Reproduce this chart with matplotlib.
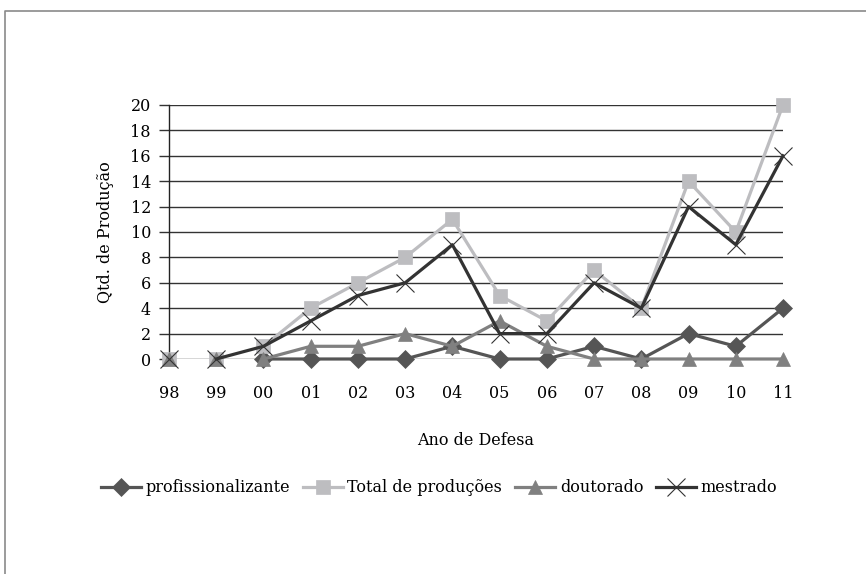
import numpy as np
import matplotlib
matplotlib.use('Agg')
import matplotlib.pyplot as plt
from matplotlib.lines import Line2D

anos = ['98', '99', '00', '01', '02', '03', '04', '05', '06', '07', '08', '09', '10', '11']

profissionalizante = [np.nan, np.nan, 0, 0, 0, 0, 1, 0, 0, 1, 0, 2, 1, 4]
total = [0, 0, 1, 4, 6, 8, 11, 5, 3, 7, 4, 14, 10, 20]
doutorado = [0, 0, 0, 1, 1, 2, 1, 3, 1, 0, 0, 0, 0, 0]
mestrado = [0, 0, 1, 3, 5, 6, 9, 2, 2, 6, 4, 12, 9, 16]

# index from which each line is drawn (earlier points are markers only)
inicio_linha = {'profissionalizante': 2, 'Total de produções': 2, 'doutorado': 2, 'mestrado': 1}

plt.rcParams['font.family'] = ['DejaVu Serif']
fs = 11.5

fig = plt.figure(figsize=(8.66, 5.74), dpi=100)
ax = fig.add_axes([169/866, 1-359/574, (783-169)/866, (359-105)/574])

x = np.arange(len(anos))
series = [
    ('profissionalizante', profissionalizante, '#555555', 'D', 9, '#555555'),
    ('Total de produções', total, '#bdbdc0', 's', 10, '#bdbdc0'),
    ('doutorado', doutorado, '#808080', '^', 10, '#808080'),
    ('mestrado', mestrado, '#333333', 'x', 13, '#333333'),
]

handles = []
for i, (nome, vals, cor, mk, ms, mc) in enumerate(series):
    vals = np.array(vals, dtype=float)
    s = inicio_linha[nome]
    ax.plot(x[s:], vals[s:], color=cor, lw=2.3, zorder=3 + i, clip_on=False)
    mew = 0.8 if mk == 'x' else 0.5
    ax.plot(x, vals, ls='none', marker=mk, ms=ms, color=mc, mec=mc, mew=mew,
            zorder=3 + i, clip_on=False)
    handles.append(Line2D([], [], color=cor, lw=2.3, marker=mk, ms=ms, mec=mc, mew=mew))

ax.set_xlim(0, len(anos) - 1)
ax.set_ylim(0, 20)
ax.set_yticks(range(0, 21, 2))
ax.set_xticks(x)
ax.set_xticklabels(anos)
ax.yaxis.grid(True, color='#333333', lw=1.0)
ax.set_axisbelow(True)
for sp in ['top', 'right', 'bottom']:
    ax.spines[sp].set_visible(False)
ax.spines['left'].set_color('#222222')
ax.spines['left'].set_linewidth(1.0)
ax.tick_params(axis='y', length=7, width=1.0, color='#333333', labelsize=fs, pad=6)
ax.tick_params(axis='x', length=0, labelsize=fs, pad=19)
ax.set_xlabel('Ano de Defesa', fontsize=fs, labelpad=21)
ax.set_ylabel('Qtd. de Produção', fontsize=fs, labelpad=12)

fig.legend(handles, [s[0] for s in series], loc='center', bbox_to_anchor=(0.507, 1-488/574),
           ncol=4, frameon=False, fontsize=fs, handlelength=2.5, handletextpad=0.3,
           columnspacing=0.8, borderaxespad=0)

# outer frame (top and left edges)
fig.add_artist(Line2D([5/866, 5/866, 1.0], [0.0, 1-11/574, 1-11/574], transform=fig.transFigure,
                      color='#8a8a8a', lw=1.2))

fig.savefig('out.png', dpi=100)
